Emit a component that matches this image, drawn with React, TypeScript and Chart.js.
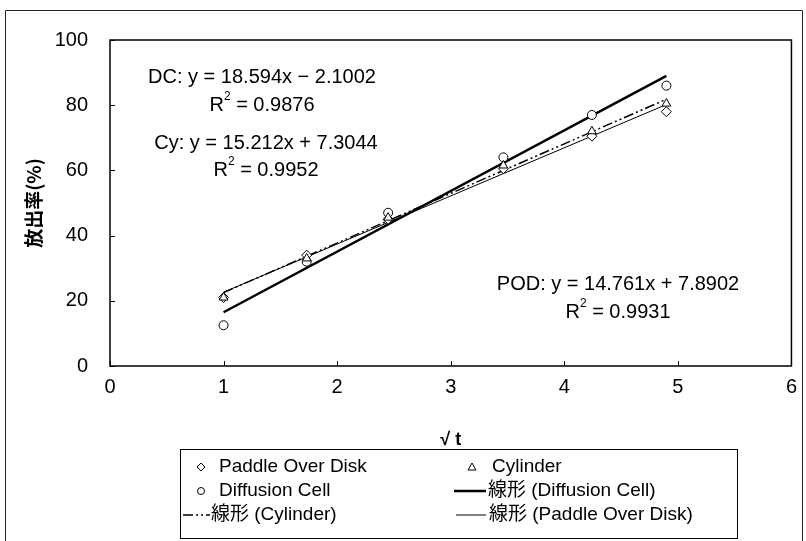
import { useEffect, useRef } from 'react';
import { Chart, registerables } from 'chart.js';

Chart.register(...registerables);

// sqrt(t) for t = 1, 3, 6, 12, 18, 24 h
const sqrtTime = [1, 1.732, 2.449, 3.464, 4.243, 4.899];
const podRelease = [21, 34, 45, 60.5, 70.5, 78];
const cylinderRelease = [21, 33, 45.5, 61.5, 72, 80.5];
const diffusionRelease = [12.5, 32, 47, 64, 77, 86];

const xTicks = [0, 1, 2, 3, 4, 5, 6];
const yTicks = [0, 20, 40, 60, 80, 100];

// trendline equations as printed on the chart: DC, Cy, POD
const trendLabels = ['DC', 'Cy', 'POD'];
const trendSlopes = [18.594, 15.212, 14.761];
const trendIntercepts = [-2.1002, 7.3044, 7.8902];
const trendR2 = ['0.9876', '0.9952', '0.9931'];

const LATIN = '"Liberation Sans", Arial, "Noto Sans CJK JP", sans-serif';
const CJK = '"Noto Sans CJK JP", sans-serif';

function trendPoints(i: number) {
  const lo = Math.min(...sqrtTime);
  const hi = Math.max(...sqrtTime);
  return [lo, hi].map((x) => ({ x, y: trendSlopes[i] * x + trendIntercepts[i] }));
}

function fmtEq(i: number) {
  const b = trendIntercepts[i];
  const sign = b < 0 ? '\u2212' : '+';
  return `${trendLabels[i]}: y = ${trendSlopes[i].toFixed(3)}x ${sign} ${Math.abs(b).toFixed(4)}`;
}

function drawMarker(ctx: CanvasRenderingContext2D, kind: string, x: number, y: number, r: number) {
  ctx.save();
  ctx.lineWidth = 1;
  ctx.strokeStyle = '#000';
  ctx.fillStyle = '#fff';
  ctx.beginPath();
  if (kind === 'diamond') {
    ctx.moveTo(x, y - r);
    ctx.lineTo(x + r, y);
    ctx.lineTo(x, y + r);
    ctx.lineTo(x - r, y);
    ctx.closePath();
  } else if (kind === 'triangle') {
    ctx.moveTo(x, y - r);
    ctx.lineTo(x + r, y + r * 0.75);
    ctx.lineTo(x - r, y + r * 0.75);
    ctx.closePath();
  } else {
    ctx.arc(x, y, r, 0, Math.PI * 2);
  }
  ctx.fill();
  ctx.stroke();
  ctx.restore();
}

const decorPlugin = {
  id: 'decor',
  beforeDraw(chart: any) {
    const ctx = chart.ctx as CanvasRenderingContext2D;
    ctx.save();
    ctx.fillStyle = '#fff';
    ctx.fillRect(0, 0, chart.width, chart.height);
    ctx.restore();
  },
  afterDraw(chart: any) {
    const ctx = chart.ctx as CanvasRenderingContext2D;
    const { left, right, top, bottom } = chart.chartArea;
    const xs = chart.scales.x;
    const ys = chart.scales.y;
    ctx.save();

    // outer frame
    ctx.strokeStyle = '#222';
    ctx.lineWidth = 1;
    ctx.beginPath();
    ctx.moveTo(5.5, 560);
    ctx.lineTo(5.5, 10.5);
    ctx.lineTo(802.5, 10.5);
    ctx.lineTo(802.5, 560);
    ctx.stroke();

    // plot frame
    ctx.strokeStyle = '#000';
    ctx.lineWidth = 1.5;
    ctx.strokeRect(left, top, right - left, bottom - top);

    // inner ticks
    ctx.lineWidth = 1;
    ctx.beginPath();
    xTicks.forEach((v) => {
      const px = Math.round(xs.getPixelForValue(v)) + 0.5;
      ctx.moveTo(px, bottom);
      ctx.lineTo(px, bottom - 5);
    });
    yTicks.forEach((v) => {
      const py = Math.round(ys.getPixelForValue(v)) + 0.5;
      ctx.moveTo(left, py);
      ctx.lineTo(left + 5, py);
    });
    ctx.stroke();

    // equations
    ctx.fillStyle = '#000';
    ctx.textBaseline = 'middle';
    const eqPos = [
      { cx: 262, y1: 77, y2: 105 },
      { cx: 266, y1: 143, y2: 170 },
      { cx: 618, y1: 284, y2: 312 },
    ];
    eqPos.forEach((p, i) => {
      ctx.font = `20px ${LATIN}`;
      ctx.textAlign = 'center';
      ctx.fillText(fmtEq(i), p.cx, p.y1);
      const rest = ` = ${trendR2[i]}`;
      ctx.font = `20px ${LATIN}`;
      const wR = ctx.measureText('R').width;
      const wRest = ctx.measureText(rest).width;
      ctx.font = `12px ${LATIN}`;
      const w2 = ctx.measureText('2').width;
      const total = wR + w2 + wRest;
      const x0 = p.cx - total / 2;
      ctx.textAlign = 'left';
      ctx.font = `20px ${LATIN}`;
      ctx.fillText('R', x0, p.y2);
      ctx.font = `12px ${LATIN}`;
      ctx.fillText('2', x0 + wR, p.y2 - 8);
      ctx.font = `20px ${LATIN}`;
      ctx.fillText(rest, x0 + wR + w2, p.y2);
    });

    // axis titles
    ctx.textAlign = 'center';
    ctx.font = `bold 18px ${LATIN}`;
    ctx.fillText('\u221A t', (left + right) / 2, 440);
    ctx.save();
    ctx.translate(34, 203);
    ctx.rotate(-Math.PI / 2);
    ctx.font = `bold 19px ${CJK}`;
    ctx.fillText('放出率(%)', 0, 0);
    ctx.restore();

    // legend
    const bx = 180.5, by = 449.5, bw = 557, bh = 89;
    ctx.lineWidth = 1;
    ctx.strokeStyle = '#000';
    ctx.strokeRect(bx, by, bw, bh);
    const rows = [467, 491, 515];
    ctx.font = `19px ${LATIN}`;
    ctx.textAlign = 'left';
    drawMarker(ctx, 'diamond', 201, rows[0], 4);
    ctx.fillText('Paddle Over Disk', 219, rows[0]);
    drawMarker(ctx, 'triangle', 472, rows[0], 4);
    ctx.fillText('Cylinder', 492, rows[0]);
    drawMarker(ctx, 'circle', 201, rows[1], 3.5);
    ctx.fillText('Diffusion Cell', 219, rows[1]);

    ctx.beginPath();
    ctx.lineWidth = 2.5;
    ctx.moveTo(454, rows[1]);
    ctx.lineTo(486, rows[1]);
    ctx.stroke();
    ctx.fillText('線形 (Diffusion Cell)', 488, rows[1]);

    ctx.beginPath();
    ctx.lineWidth = 1.5;
    ctx.setLineDash([10, 3, 2, 3, 2, 3]);
    ctx.moveTo(183, rows[2]);
    ctx.lineTo(210, rows[2]);
    ctx.stroke();
    ctx.setLineDash([]);
    ctx.fillText('線形 (Cylinder)', 211, rows[2]);

    ctx.beginPath();
    ctx.lineWidth = 1;
    ctx.moveTo(456, rows[2]);
    ctx.lineTo(486, rows[2]);
    ctx.stroke();
    ctx.fillText('線形 (Paddle Over Disk)', 489, rows[2]);

    ctx.restore();
  },
};

export default function App() {
  const ref = useRef<HTMLCanvasElement | null>(null);

  useEffect(() => {
    document.body.style.margin = '0';
    const canvas = ref.current;
    if (!canvas) return;
    const toXY = (vals: number[]) => vals.map((y, i) => ({ x: sqrtTime[i], y }));
    const pointBase = {
      type: 'scatter' as const,
      borderColor: '#000',
      backgroundColor: '#fff',
      borderWidth: 1,
    };
    const chart = new Chart(canvas, {
      type: 'scatter',
      data: {
        datasets: [
          { ...pointBase, label: 'Paddle Over Disk', data: toXY(podRelease), pointStyle: 'rectRot', pointRadius: 5, order: 1 },
          { ...pointBase, label: 'Cylinder', data: toXY(cylinderRelease), pointStyle: 'triangle', pointRadius: 5, order: 0 },
          { ...pointBase, label: 'Diffusion Cell', data: toXY(diffusionRelease), pointStyle: 'circle', pointRadius: 4.5, order: 0 },
          {
            type: 'line', label: '線形 (Diffusion Cell)', data: trendPoints(0),
            borderColor: '#000', borderWidth: 2.5, pointRadius: 0, showLine: true, order: 2,
          },
          {
            type: 'line', label: '線形 (Cylinder)', data: trendPoints(1),
            borderColor: '#000', borderWidth: 1.5, borderDash: [10, 3, 2, 3, 2, 3], pointRadius: 0, showLine: true, order: 2,
          },
          {
            type: 'line', label: '線形 (Paddle Over Disk)', data: trendPoints(2),
            borderColor: '#000', borderWidth: 1, pointRadius: 0, showLine: true, order: 2,
          },
        ] as any,
      },
      options: {
        responsive: false,
        animation: false,
        layout: { padding: { top: 40, right: 6, left: 0, bottom: 0 } },
        plugins: { legend: { display: false }, tooltip: { enabled: false } },
        scales: {
          x: {
            type: 'linear',
            min: 0,
            max: 6,
            afterFit: (s: any) => { s.height = 175; },
            afterBuildTicks: (s: any) => { s.ticks = xTicks.map((v) => ({ value: v })); },
            grid: { display: false, drawTicks: false },
            border: { display: false },
            ticks: { color: '#000', padding: 9, font: { size: 20, family: LATIN } },
          },
          y: {
            type: 'linear',
            min: 0,
            max: 100,
            afterFit: (s: any) => { s.width = 110; },
            afterBuildTicks: (s: any) => { s.ticks = yTicks.map((v) => ({ value: v })); },
            grid: { display: false, drawTicks: false },
            border: { display: false },
            ticks: { color: '#000', padding: 22, font: { size: 20, family: LATIN } },
          },
        },
      },
      plugins: [decorPlugin],
    });
    return () => chart.destroy();
  }, []);

  return <canvas ref={ref} width={806} height={541} style={{ display: 'block' }} />;
}
